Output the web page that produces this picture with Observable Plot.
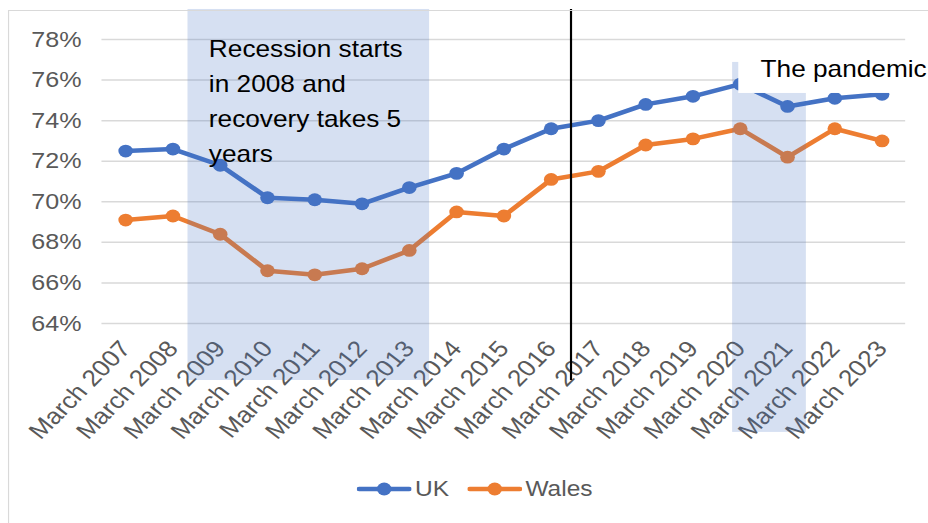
<!DOCTYPE html>
<html>
<head>
<meta charset="utf-8">
<script src="https://cdn.jsdelivr.net/npm/d3@7"></script>
<script src="https://cdn.jsdelivr.net/npm/@observablehq/plot@0.6"></script>
<style>
  html, body { margin: 0; padding: 0; background: #fff; overflow: hidden; }
  #wrap { position: absolute; left: 0; top: 0; width: 814px; transform: scale(1.14, 1); transform-origin: 0 0;
          font-family: "Liberation Sans", Arial, sans-serif; }
  #frame { position: absolute; left: 7px; top: 10px; width: 900px; height: 600px; border: 1.5px solid #d9d9d9; pointer-events: none; }
  #legend { height: 68px; display: flex; align-items: center; padding-left: 313px; font-size: 21.5px; color: #595959; }
  .item { display: flex; align-items: center; margin-right: 16px; }
  .item svg { margin-right: 3px; }
</style>
</head>
<body>
<div id="wrap">
  <div id="chart"></div>
  <div id="legend"></div>
  <div id="frame"></div>
</div>
<script>
// ---- data ----
const years = [2007, 2008, 2009, 2010, 2011, 2012, 2013, 2014, 2015, 2016, 2017, 2018, 2019, 2020, 2021, 2022, 2023];
const ukRate = [72.5, 72.6, 71.8, 70.2, 70.1, 69.9, 70.7, 71.4, 72.6, 73.6, 74.0, 74.8, 75.2, 75.8, 74.7, 75.1, 75.3];
const walesRate = [69.1, 69.3, 68.4, 66.6, 66.4, 66.7, 67.6, 69.5, 69.3, 71.1, 71.5, 72.8, 73.1, 73.6, 72.2, 73.6, 73.0];
const seriesNames = ["UK", "Wales"];
const seriesColors = ["#4472C4", "#ED7D31"];
const yTicks = [64, 66, 68, 70, 72, 74, 76, 78];

// annotation shapes (in data units: year, percent)
const shadeBands = [
  {x1: 2008.32, x2: 2013.43, y1: 79.48, y2: 61.19},
  {x1: 2019.84, x2: 2021.40, y1: 76.87, y2: 58.63}
];
const dividers = [{x: 2016.42, y1: 79.48, y2: 61.19}];
const labelBoxes = [{x1: 2019.97, x2: 2024.6, y1: 77.06, y2: 75.34}];
const notes = [
  {x: 2008.76, y: 78.36, text: "Recession starts\nin 2008 and\nrecovery takes 5\nyears"},
  {x: 2020.43, y: 77.38, text: "The pandemic"}
];

const rows = [];
years.forEach((yr, i) => {
  rows.push({year: yr, series: "UK", value: ukRate[i]});
  rows.push({year: yr, series: "Wales", value: walesRate[i]});
});

const font = "Liberation Sans, Arial, sans-serif";
const chart = Plot.plot({
  width: 814,
  height: 455,
  marginLeft: 89,
  marginRight: 20,
  marginTop: 39,
  marginBottom: 132,
  style: {fontFamily: font, fontSize: "21px", color: "#595959", background: "transparent", overflow: "visible"},
  x: {type: "linear", domain: [2006.5, 2023.5]},
  y: {domain: [64, 78]},
  color: {domain: seriesNames, range: seriesColors},
  marks: [
    Plot.ruleY(yTicks, {stroke: "#d9d9d9", strokeWidth: 1.5}),
    Plot.axisY(yTicks, {tickFormat: d => d + "%", tickSize: 0, tickPadding: 18, label: null, fill: "#595959", fontSize: 22}),
    Plot.axisX(years, {tickFormat: d => "March " + d, tickRotate: -48.7, tickSize: 0, tickPadding: 21, label: null, fill: "#595959", fontSize: 23}),
    Plot.line(rows, {x: "year", y: "value", z: "series", stroke: "series", strokeWidth: 4.5, strokeLinejoin: "round", strokeLinecap: "round"}),
    Plot.dot(rows, {x: "year", y: "value", fill: "series", r: 6.4}),
    Plot.rect(shadeBands, {x1: "x1", x2: "x2", y1: "y1", y2: "y2", fill: "#4472C4", fillOpacity: 0.22}),
    Plot.ruleX(dividers, {x: "x", y1: "y1", y2: "y2", stroke: "#000", strokeWidth: 1.9}),
    Plot.rect(labelBoxes, {x1: "x1", x2: "x2", y1: "y1", y2: "y2", fill: "white"}),
    Plot.text(notes, {x: "x", y: "y", text: "text", textAnchor: "start", lineAnchor: "top", lineHeight: 1.52, fontSize: 23, fill: "#000"})
  ]
});
document.getElementById("chart").appendChild(chart);

// legend
const legend = document.getElementById("legend");
seriesNames.forEach((name, i) => {
  const item = document.createElement("div");
  item.className = "item";
  item.innerHTML = `<svg width="48" height="14"><line x1="2" x2="46" y1="7" y2="7" stroke="${seriesColors[i]}" stroke-width="4.5" stroke-linecap="round"/><circle cx="24" cy="7" r="6.4" fill="${seriesColors[i]}"/></svg><span>${name}</span>`;
  legend.appendChild(item);
});
</script>
</body>
</html>
